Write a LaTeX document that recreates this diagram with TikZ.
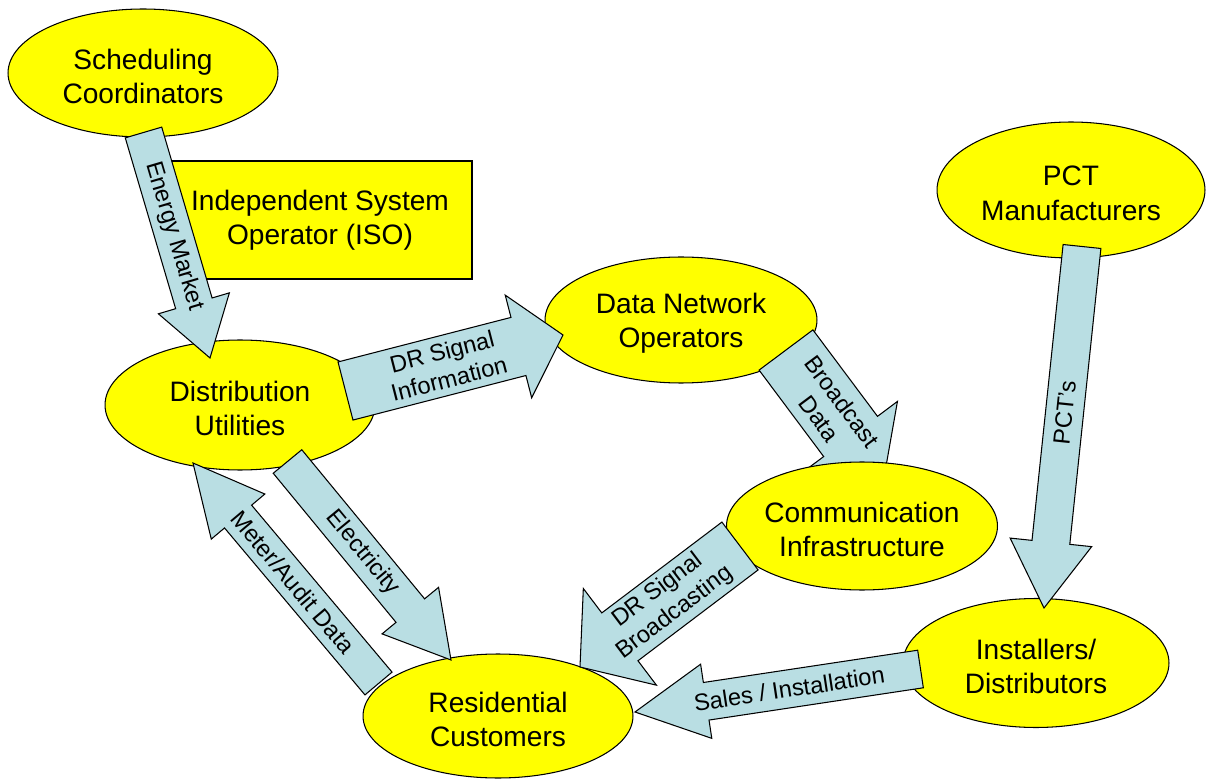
\documentclass[tikz,border=0pt]{standalone}
\usepackage{fontspec}
\setmainfont{Liberation Sans}
\usetikzlibrary{shapes.geometric,calc}
\definecolor{flowblue}{RGB}{185,222,227}
\definecolor{hubyellow}{RGB}{255,255,0}
\tikzset{
  hub/.style={ellipse, draw=black, line width=0.6pt, fill=hubyellow, inner sep=0pt},
  every label/.style={align=center, font=\fontsize{16}{19.6}\selectfont, yshift=-0.07cm},
  isobox/.style={rectangle, draw=black, line width=0.6pt, fill=hubyellow, align=center,
    font=\fontsize{16}{19.6}\selectfont, minimum width=6.08cm, minimum height=2.36cm},
  flow/.style={draw=black, line width=0.6pt, fill=flowblue, line join=miter},
  flowtext/.style={align=center, font=\fontsize{13.5}{16}\selectfont, inner sep=0pt}
}
% block arrow: tail, tip, half shaft, half head, head length (all in px), text
\newcommand{\blockarrow}[6]{%
  \coordinate (hb) at ($(#2)!#5*0.02cm!(#1)$);
  \draw[flow] ($(#1)!#3*0.02cm!90:(#2)$) -- ($(hb)!#3*0.02cm!90:(#2)$) -- ($(hb)!#4*0.02cm!90:(#2)$) -- (#2)
    -- ($(hb)!#4*0.02cm!-90:(#2)$) -- ($(hb)!#3*0.02cm!-90:(#2)$) -- ($(#1)!#3*0.02cm!-90:(#2)$) -- cycle;
  \path (#1) -- (#2) node[pos=0.46, sloped, flowtext] {#6};
}
\begin{document}
\begin{tikzpicture}[x=0.02cm, y=-0.02cm]
  \useasboundingbox (0,0) rectangle (1207,780);

  % actors
  \node[hub, minimum width=5.4cm, minimum height=2.56cm, label=center:{Scheduling\\Coordinators}] (sched) at (143,73) {};
  \node[isobox] (iso) at (320,220) {Independent System\\Operator (ISO)};
  \node[hub, minimum width=5.36cm, minimum height=2.72cm, label=center:{PCT\\Manufacturers}] (pct) at (1071,190) {};
  \node[hub, minimum width=5.4cm, minimum height=2.6cm, label=center:{Distribution\\Utilities}] (util) at (240,405) {};
  \node[hub, minimum width=5.44cm, minimum height=2.52cm, label=center:{Data Network\\Operators}] (dno) at (681,320) {};
  \node[hub, minimum width=5.32cm, minimum height=2.58cm, label=center:{Installers/\\Distributors}] (inst) at (1036,663) {};
  \node[hub, minimum width=5.4cm, minimum height=2.48cm, label=center:{Residential\\Customers}] (res) at (498,716) {};

  % arrow ends
  \coordinate (market-a) at (143.5,132.5);  \coordinate (market-b) at (210,358);
  \coordinate (drinfo-a) at (345.5,391);    \coordinate (drinfo-b) at (563,335);
  \coordinate (bcast-a) at (786,350);       \coordinate (bcast-b) at (883.5,480.5);
  \coordinate (drbc-a) at (740,546);        \coordinate (drbc-b) at (580,667);
  \coordinate (sales-a) at (920.5,669);     \coordinate (sales-b) at (635,712);
  \coordinate (meter-a) at (378.5,683.5);   \coordinate (meter-b) at (193,463);
  \coordinate (elec-a) at (287.5,461.5);    \coordinate (elec-b) at (451,660);
  \coordinate (pcts-a) at (1082,246.5);     \coordinate (pcts-b) at (1044,608);

  \blockarrow{market-a}{market-b}{19}{37}{57}{Energy Market}
  \blockarrow{drinfo-a}{drinfo-b}{30}{53}{46}{DR Signal\\Information}
  \blockarrow{bcast-a}{bcast-b}{33.6}{58.5}{55}{Broadcast\\Data}

  \node[hub, minimum width=5.42cm, minimum height=2.56cm, label=center:{Communication\\Infrastructure}] (comm) at (862,526) {};

  \blockarrow{drbc-a}{drbc-b}{30}{60.6}{50}{DR Signal\\Broadcasting}
  \blockarrow{sales-a}{sales-b}{19}{37.5}{72}{Sales / Installation}
  \blockarrow{meter-a}{meter-b}{17.7}{35}{70}{Meter/Audit Data}
  \blockarrow{elec-a}{elec-b}{18.5}{36.6}{64}{Electricity}
  \blockarrow{pcts-a}{pcts-b}{19}{41}{66}{PCT's}
\end{tikzpicture}
\end{document}
